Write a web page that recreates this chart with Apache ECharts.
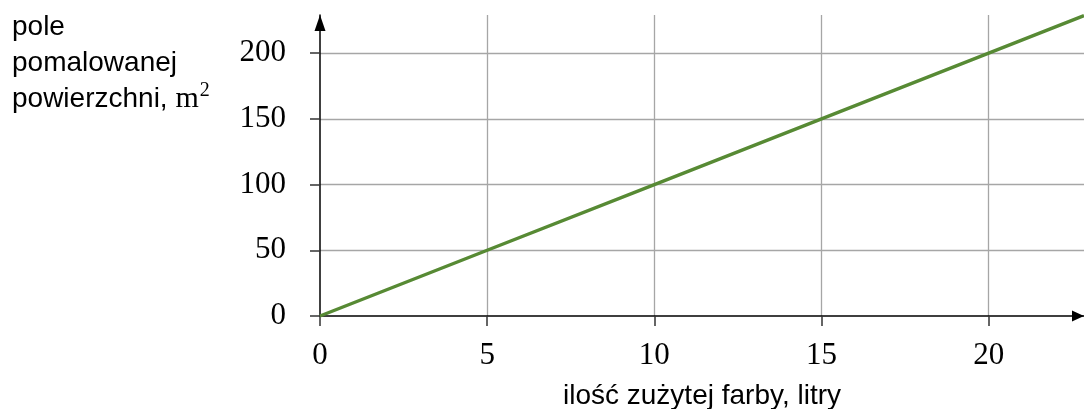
<!DOCTYPE html>
<html>
<head>
<meta charset="utf-8">
<script src="https://cdn.jsdelivr.net/npm/echarts@6/dist/echarts.min.js"></script>
<style>
  html, body { margin: 0; padding: 0; background: #fff; overflow: hidden; }
  #chart { width: 1084px; height: 409px; }
</style>
</head>
<body>
<div id="chart"></div>
<script>
// Data
const litres = [0, 5, 10, 15, 20, 22.85];
const area = [0, 50, 100, 150, 200, 228.5];
const xTickLabels = ['0', '5', '10', '15', '20'];
const yTickLabels = ['0', '50', '100', '150', '200'];
const xAxisTitle = 'ilość zużytej farby, litry';
const yAxisTitleLines = ['pole', 'pomalowanej', 'powierzchni, '];
const yAxisUnit = 'm';
const yAxisUnitSup = '2';

const chart = echarts.init(document.getElementById('chart'), null, { renderer: 'canvas' });
const serif = '"Liberation Serif", "DejaVu Serif", serif';
const sans = '"Liberation Sans", Arial, sans-serif';

const points = litres.map((x, i) => [x, area[i]]);

chart.setOption({
  animation: false,
  backgroundColor: '#ffffff',
  grid: { left: 320, right: 0, top: 15, bottom: 93, containLabel: false, outerBoundsMode: 'none' },
  xAxis: {
    type: 'value',
    min: 0,
    max: 22.85,
    interval: 5,
    name: xAxisTitle,
    nameLocation: 'middle',
    nameGap: 66,
    nameTextStyle: { fontFamily: sans, fontSize: 28, color: '#000' },
    axisLine: { show: true, symbol: ['none', 'triangle'], symbolSize: [11, 12], symbolOffset: [0, -6], lineStyle: { color: '#000', width: 1.5 } },
    axisTick: { show: true, length: 10, inside: false, lineStyle: { color: '#333', width: 1.5 } },
    axisLabel: {
      margin: 24,
      fontFamily: serif,
      fontSize: 31,
      color: '#000',
      showMaxLabel: false,
      formatter: v => xTickLabels.includes(String(v)) ? String(v) : ''
    },
    splitLine: { show: true, showMinLine: false, showMaxLine: false, lineStyle: { color: '#a6a6a6', width: 1.3 } }
  },
  yAxis: {
    type: 'value',
    min: 0,
    max: 229,
    interval: 50,
    axisLine: { show: true, symbol: ['none', 'triangle'], symbolSize: [11, 16], symbolOffset: [0, -8], lineStyle: { color: '#000', width: 1.5 } },
    axisTick: { show: true, length: 10, inside: false, lineStyle: { color: '#333', width: 1.5 } },
    axisLabel: {
      margin: 34,
      fontFamily: serif,
      fontSize: 31,
      color: '#000',
      showMaxLabel: false,
      formatter: v => yTickLabels.includes(String(v)) ? String(v) : ''
    },
    splitLine: { show: true, showMinLine: false, showMaxLine: false, lineStyle: { color: '#a6a6a6', width: 1.3 } }
  },
  graphic: [
    {
      type: 'text',
      left: 12,
      top: 9,
      style: {
        text: yAxisTitleLines[0] + '\n' + yAxisTitleLines[1] + '\n' + yAxisTitleLines[2] + '{u|' + yAxisUnit + '}{s|' + yAxisUnitSup + '}',
        fontFamily: sans,
        fontSize: 28,
        lineHeight: 36,
        fill: '#000',
        rich: {
          u: { fontFamily: serif, fontSize: 30, lineHeight: 36, fill: '#000' },
          s: { fontFamily: serif, fontSize: 20, lineHeight: 36, verticalAlign: 'top', padding: [0, 0, 12, 1], fill: '#000' }
        }
      }
    }
  ],
  series: [{
    type: 'line',
    data: points,
    showSymbol: false,
    symbol: 'none',
    lineStyle: { color: '#578a34', width: 3.4 },
    z: 5
  }]
});
</script>
</body>
</html>
